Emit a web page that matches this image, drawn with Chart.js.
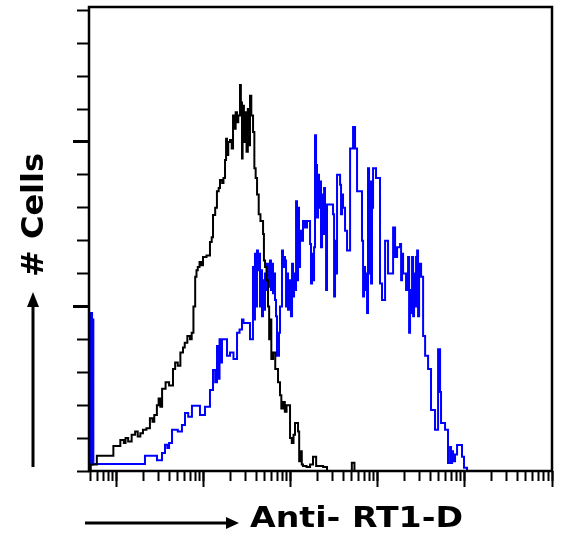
<!DOCTYPE html>
<html lang="en">
<head>
  <meta charset="UTF-8">
  <title>Anti- RT1-D histogram</title>
  <script src="https://cdn.jsdelivr.net/npm/chart.js"></script>
  <style>
    html, body { margin: 0; padding: 0; background: #fff; }
    #wrap { width: 562px; height: 550px; }
  </style>
</head>
<body>
  <div id="wrap"><canvas id="histChart" width="562" height="550"></canvas></div>

  <script>
    // x = log10 fluorescence, y = cell count per channel
    const isotypeHist = [
      [-0.32, 0], [-0.30, 2], [-0.23, 4.6], [-0.04, 7.6], [0.04, 9.4], [0.08, 8.5], [0.10, 10], [0.13, 9],
      [0.17, 11], [0.21, 12], [0.24, 10.5], [0.27, 11.5], [0.30, 12.5], [0.34, 13], [0.38, 16], [0.41, 15],
      [0.43, 17], [0.46, 20], [0.48, 22], [0.50, 19.5], [0.52, 25], [0.56, 27], [0.60, 26], [0.645, 31],
      [0.67, 33], [0.70, 32], [0.73, 36], [0.76, 37.5], [0.78, 39], [0.81, 41], [0.84, 40], [0.86, 42],
      [0.88, 50], [0.90, 59], [0.915, 61], [0.93, 62], [0.95, 63.5], [0.97, 62.5], [0.99, 65], [1.03, 65.5],
      [1.07, 69.6], [1.09, 71], [1.105, 77.8], [1.13, 80], [1.15, 85], [1.17, 86], [1.185, 88.4], [1.21, 87.5],
      [1.225, 89], [1.243, 94.5], [1.255, 101], [1.266, 96], [1.28, 100], [1.30, 100.6], [1.32, 98], [1.335, 108],
      [1.35, 104], [1.365, 109], [1.381, 106], [1.395, 108], [1.415, 117.3], [1.425, 112], [1.438, 95], [1.445, 111],
      [1.46, 100], [1.473, 109], [1.49, 97], [1.505, 110], [1.52, 99], [1.53, 114], [1.545, 108], [1.565, 103],
      [1.58, 92], [1.595, 89], [1.611, 84], [1.63, 78], [1.65, 76], [1.68, 72], [1.69, 64], [1.703, 62],
      [1.72, 58], [1.737, 50], [1.75, 40], [1.76, 46], [1.775, 34], [1.795, 36], [1.82, 31], [1.852, 27],
      [1.875, 23], [1.89, 19], [1.91, 21], [1.93, 18], [1.95, 20], [1.99, 10], [2.01, 8.5], [2.03, 11],
      [2.047, 14.6], [2.082, 12], [2.095, 3], [2.11, 6], [2.125, 2], [2.139, 1.5], [2.18, 1.2], [2.22, 2],
      [2.254, 4.3], [2.29, 1.5], [2.33, 1.5], [2.37, 1.2], [2.415, 0], [2.68, 0], [2.70, 2.5], [2.73, 0],
      [5.0, 0]
    ];

    const rt1dHist = [
      [-0.32, 48], [-0.305, 2], [-0.295, 48], [-0.285, 2], [-0.278, 46], [-0.27, 2.1],
      [0.323, 4.6], [0.461, 3.3], [0.519, 5.5], [0.553, 8], [0.58, 7], [0.60, 8.5],
      [0.634, 12.5], [0.70, 12], [0.748, 14], [0.783, 17.6], [0.82, 16.5], [0.863, 19.8], [0.955, 17], [1.013, 19.5],
      [1.07, 24.6], [1.105, 30.7], [1.13, 27], [1.151, 38], [1.165, 28], [1.18, 40], [1.19, 33], [1.208, 40],
      [1.266, 35], [1.30, 36], [1.34, 34], [1.381, 42], [1.41, 43], [1.438, 46], [1.455, 45], [1.53, 40],
      [1.564, 62], [1.576, 46], [1.587, 66], [1.599, 50], [1.610, 67], [1.622, 61], [1.633, 66], [1.645, 50],
      [1.656, 61], [1.668, 47], [1.679, 58], [1.691, 49], [1.702, 60], [1.714, 55], [1.725, 63], [1.737, 56],
      [1.748, 62], [1.760, 64], [1.771, 55], [1.783, 63], [1.794, 54], [1.806, 60], [1.817, 52], [1.829, 47],
      [1.840, 35], [1.863, 42], [1.875, 50], [1.898, 67], [1.909, 62], [1.921, 65], [1.932, 64], [1.944, 50],
      [1.955, 60], [1.967, 49], [1.978, 58], [1.990, 52], [2.001, 47], [2.013, 63], [2.024, 53], [2.036, 60],
      [2.047, 55], [2.059, 82], [2.070, 58], [2.082, 80], [2.093, 62], [2.105, 73], [2.116, 70], [2.139, 76],
      [2.162, 74], [2.185, 76], [2.220, 69], [2.231, 57], [2.243, 66], [2.254, 58], [2.266, 68], [2.277, 102],
      [2.289, 93], [2.300, 77], [2.312, 90], [2.323, 80], [2.335, 88], [2.346, 68], [2.358, 84], [2.369, 72],
      [2.381, 86], [2.392, 80], [2.404, 55], [2.415, 81], [2.484, 78], [2.496, 53], [2.507, 70], [2.519, 60],
      [2.530, 90], [2.565, 87], [2.576, 78], [2.588, 84], [2.599, 80], [2.622, 73], [2.645, 67], [2.680, 98],
      [2.714, 104.5], [2.737, 98], [2.760, 85], [2.817, 70], [2.829, 53], [2.840, 62], [2.852, 55], [2.863, 60],
      [2.875, 48], [2.886, 92], [2.898, 60], [2.909, 88], [2.921, 57], [2.932, 80], [2.944, 92], [2.978, 89],
      [3.024, 57], [3.047, 52], [3.082, 70], [3.116, 60], [3.174, 74], [3.197, 65], [3.220, 68], [3.254, 69],
      [3.266, 58], [3.277, 66], [3.289, 60], [3.312, 60], [3.323, 55], [3.346, 65], [3.358, 42], [3.369, 55],
      [3.381, 48], [3.392, 65], [3.404, 47], [3.415, 60], [3.427, 50], [3.438, 65], [3.450, 67], [3.461, 47],
      [3.473, 62], [3.484, 63], [3.496, 59], [3.519, 41], [3.542, 35], [3.565, 35], [3.576, 31], [3.599, 31],
      [3.610, 18.5], [3.633, 18.5], [3.656, 12.5], [3.691, 37], [3.714, 24], [3.725, 14.6], [3.748, 14.6], [3.771, 12.5],
      [3.794, 12.5], [3.805, 2.4], [3.829, 7.3], [3.840, 2.4], [3.852, 6], [3.863, 3], [3.886, 5], [3.909, 7.9],
      [3.966, 4.3], [3.989, 1], [4.024, 0], [5.0, 0]
    ];

    const logMin = -0.32, logMax = 5.0;
    const decades = [0, 1, 2, 3, 4, 5];
    const decadeSteps = [1, 2, 3, 4, 5, 6, 7, 8, 9];
    const countMax = 141;
    const countTicks = [0, 10, 20, 30, 40, 50, 60, 70, 80, 90, 100, 110, 120, 130, 140];
    const countMajor = [50, 100];
    const xTitle = 'Anti- RT1-D';
    const yTitle = '# Cells';

    // minor log ticks: 1..9 x 10^d, expressed as log10 values
    function minorLogTicks() {
      const out = [];
      [-1].concat(decades).forEach(d => {
        decadeSteps.forEach(m => {
          const v = d + Math.log10(m);
          if (v >= logMin - 1e-6 && v <= logMax + 1e-6) out.push({ value: v });
        });
      });
      return out;
    }

    const frameAndTitles = {
      id: 'frameAndTitles',
      afterDraw(chart) {
        const { ctx, chartArea: a } = chart;
        ctx.save();
        ctx.strokeStyle = '#000';
        ctx.fillStyle = '#000';
        ctx.lineWidth = 2.5;
        ctx.strokeRect(a.left, a.top, a.right - a.left, a.bottom - a.top);

        // x title with arrow
        ctx.lineWidth = 3;
        const ay = a.bottom + 52;
        ctx.beginPath();
        ctx.moveTo(a.left - 4, ay);
        ctx.lineTo(a.left + 140, ay);
        ctx.stroke();
        ctx.beginPath();
        ctx.moveTo(a.left + 150, ay);
        ctx.lineTo(a.left + 137, ay - 6);
        ctx.lineTo(a.left + 137, ay + 6);
        ctx.closePath();
        ctx.fill();

        ctx.font = 'bold 29px "DejaVu Sans"';
        ctx.textBaseline = 'alphabetic';
        ctx.textAlign = 'left';
        let w = ctx.measureText(xTitle).width;
        ctx.save();
        ctx.translate(a.left + 161, a.bottom + 56);
        ctx.scale(213 / w, 1);
        ctx.fillText(xTitle, 0, 0);
        ctx.restore();

        // y title with arrow
        const ax = a.left - 56;
        ctx.beginPath();
        ctx.moveTo(ax, a.bottom - 4);
        ctx.lineTo(ax, a.bottom - 166);
        ctx.stroke();
        ctx.beginPath();
        ctx.moveTo(ax, a.bottom - 179);
        ctx.lineTo(ax - 6, a.bottom - 164);
        ctx.lineTo(ax + 6, a.bottom - 164);
        ctx.closePath();
        ctx.fill();

        ctx.font = 'bold 31px "DejaVu Sans"';
        w = ctx.measureText(yTitle).width;
        ctx.save();
        ctx.translate(a.left - 46, a.bottom - 194);
        ctx.rotate(-Math.PI / 2);
        ctx.scale(124 / w, 1);
        ctx.fillText(yTitle, 0, 0);
        ctx.restore();

        ctx.restore();
      }
    };

    const ctx = document.getElementById('histChart').getContext('2d');
    new Chart(ctx, {
      type: 'line',
      data: {
        datasets: [
          {
            label: 'Isotype',
            data: isotypeHist.map(([x, y]) => ({ x, y })),
            borderColor: '#000000',
            borderWidth: 2,
            stepped: true,
            pointRadius: 0,
            fill: false
          },
          {
            label: 'Anti- RT1-D',
            data: rt1dHist.map(([x, y]) => ({ x, y })),
            borderColor: '#0000ff',
            borderWidth: 2,
            stepped: true,
            pointRadius: 0,
            fill: false
          }
        ]
      },
      options: {
        responsive: false,
        animation: false,
        layout: { padding: { left: 77, top: 7, right: 10, bottom: 69 } },
        plugins: { legend: { display: false }, tooltip: { enabled: false } },
        scales: {
          x: {
            type: 'linear',
            position: 'bottom',
            min: logMin,
            max: logMax,
            afterBuildTicks: scale => { scale.ticks = minorLogTicks(); },
            ticks: { display: false },
            border: { display: false },
            grid: { drawOnChartArea: false, drawTicks: true, tickLength: 10, tickWidth: 2, tickColor: '#000' }
          },
          xMajor: {
            type: 'linear',
            axis: 'x',
            position: { y: 0 },
            min: logMin,
            max: logMax,
            afterBuildTicks: scale => { scale.ticks = decades.map(v => ({ value: v })); },
            ticks: { display: false },
            border: { display: false },
            grid: { drawOnChartArea: false, drawTicks: true, tickLength: 16, tickWidth: 2, tickColor: '#000' }
          },
          y: {
            type: 'linear',
            position: 'left',
            min: 0,
            max: countMax,
            afterBuildTicks: scale => { scale.ticks = countTicks.map(v => ({ value: v })); },
            ticks: { display: false },
            border: { display: false },
            grid: { drawOnChartArea: false, drawTicks: true, tickLength: 12, tickWidth: 2, tickColor: '#000' }
          },
          yMajor: {
            type: 'linear',
            axis: 'y',
            position: { x: logMin },
            min: 0,
            max: countMax,
            afterBuildTicks: scale => { scale.ticks = countMajor.map(v => ({ value: v })); },
            ticks: { display: false },
            border: { display: false },
            grid: { drawOnChartArea: false, drawTicks: true, tickLength: 16, tickWidth: 3, tickColor: '#000' }
          }
        }
      },
      plugins: [frameAndTitles]
    });
  </script>
</body>
</html>
